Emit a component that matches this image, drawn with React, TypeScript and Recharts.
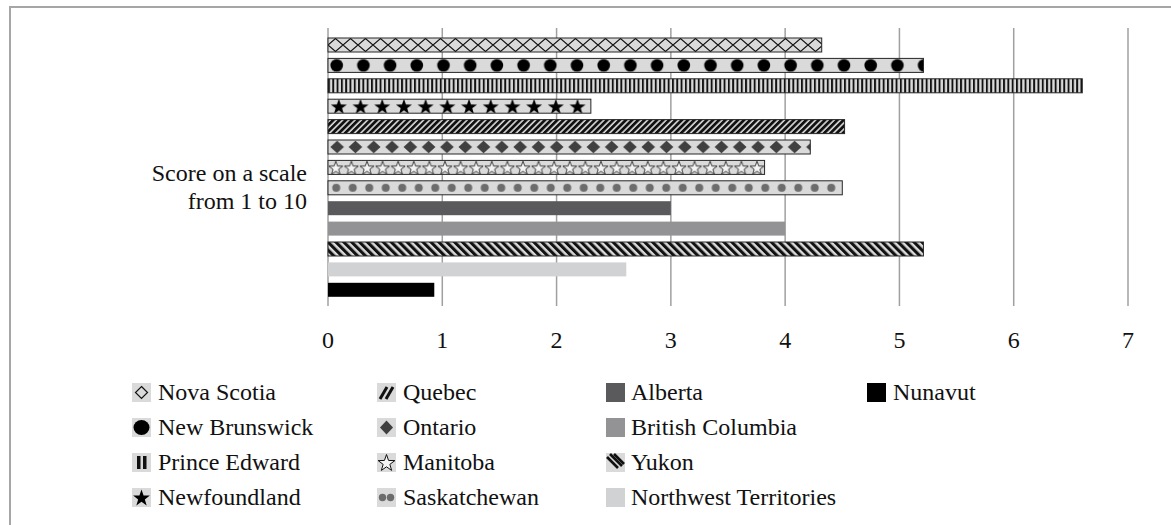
import React from 'react';
import { BarChart, Bar, XAxis, YAxis, CartesianGrid, Legend } from 'recharts';

const categories = ['Score on a scale from 1 to 10'];
const yLabelLines = ['Score on a scale', 'from 1 to 10'];
const seriesNames = [
  'Nova Scotia', 'New Brunswick', 'Prince Edward', 'Newfoundland',
  'Quebec', 'Ontario', 'Manitoba', 'Saskatchewan',
  'Alberta', 'British Columbia', 'Yukon', 'Northwest Territories', 'Nunavut',
];
const seriesValues = [4.32, 5.21, 6.6, 2.3, 4.52, 4.22, 3.82, 4.5, 3.0, 4.0, 5.21, 2.61, 0.93];
const seriesStyles = [
  'diamondOutline', 'dotsBlack', 'vStripes', 'starsBlack',
  'hatchSlash', 'diamondsFilled', 'starsOutline', 'dotsGray',
  'solid:#5a5a5c', 'solid:#939395', 'hatchBack', 'solid:#d1d2d4', 'solid:#000000',
];
const xTicks = [0, 1, 2, 3, 4, 5, 6, 7];

const FONT = 'Liberation Serif, DejaVu Serif, serif';
const BG = '#dadada';
const TEXT = '#111111';

const data = categories.map((c) => {
  const row: Record<string, any> = { category: c };
  seriesNames.forEach((n, i) => { row[n] = seriesValues[i]; });
  return row;
});

function starPath(cx: number, cy: number, R: number) {
  const r = R * 0.4;
  let d = '';
  for (let i = 0; i < 10; i++) {
    const ang = -Math.PI / 2 + (i * Math.PI) / 5;
    const rad = i % 2 === 0 ? R : r;
    d += (i === 0 ? 'M' : 'L') + (cx + rad * Math.cos(ang)).toFixed(2) + ',' + (cy + rad * Math.sin(ang)).toFixed(2);
  }
  return d + 'Z';
}

function patternSpec(kind: string, h: number) {
  switch (kind) {
    case 'diamondOutline': {
      const w = h + 1;
      return {
        w, h, tr: undefined,
        c: <path d={`M0,${h / 2} L${w / 2},0.5 L${w},${h / 2} L${w / 2},${h - 0.5} Z`} fill="none" stroke="#111" strokeWidth={1.1} />,
      };
    }
    case 'dotsBlack': {
      const w = 26.7;
      return { w, h, tr: undefined, c: <circle cx={8.7} cy={h / 2} r={h * 0.45} fill="#000" /> };
    }
    case 'vStripes': {
      const w = 4.3;
      return { w, h, tr: undefined, c: <rect x={0} y={0} width={1.9} height={h} fill="#111" /> };
    }
    case 'starsBlack': {
      const w = 21.7;
      return { w, h, tr: undefined, c: <path d={starPath(w / 2, h / 2 + 1, h * 0.6)} fill="#000" /> };
    }
    case 'hatchSlash': {
      const w = 4.4;
      return { w, h: w, tr: 'rotate(45)', c: <rect x={0} y={0} width={2.8} height={w} fill="#111" /> };
    }
    case 'hatchBack': {
      const w = 5.6;
      return { w, h: w, tr: 'rotate(-45)', c: <rect x={0} y={0} width={3.1} height={w} fill="#111" /> };
    }
    case 'diamondsFilled': {
      const w = 18.3;
      const dw = 6.8, dh = 6.2;
      const cx = w / 2, cy = h / 2;
      return {
        w, h, tr: undefined,
        c: <path d={`M${cx - dw},${cy} L${cx},${cy - dh} L${cx + dw},${cy} L${cx},${cy + dh} Z`} fill="#404040" />,
      };
    }
    case 'starsOutline': {
      const w = 15.6;
      return {
        w, h, tr: undefined,
        c: <path d={starPath(w / 2, h / 2 + 1, h * 0.52)} fill="#f4f4f4" stroke="#111" strokeWidth={0.8} />,
      };
    }
    case 'dotsGray': {
      const w = 16.5;
      return { w, h, tr: undefined, c: <circle cx={w / 2} cy={h / 2} r={4} fill="#6c6c6c" /> };
    }
    default:
      return { w: 10, h, tr: undefined, c: null };
  }
}

const PatternBar = (props: any) => {
  const { x, y, width, height, kind, sid } = props;
  if (!width || width <= 0) return null;
  if (kind.startsWith('solid:')) {
    return <rect x={x} y={y} width={width} height={height} fill={kind.slice(6)} />;
  }
  const spec = patternSpec(kind, height);
  const id = `pat-${sid}`;
  return (
    <g>
      <defs>
        <pattern id={id} patternUnits="userSpaceOnUse" x={x} y={y} width={spec.w} height={spec.h} patternTransform={spec.tr}>
          <rect x={0} y={0} width={spec.w} height={spec.h} fill={BG} />
          {spec.c}
        </pattern>
      </defs>
      <rect x={x} y={y} width={width} height={height} fill={`url(#${id})`} stroke="#262626" strokeWidth={1} />
    </g>
  );
};

function LegendIcon({ kind }: { kind: string }) {
  const s = 19;
  let content: any = null;
  let bg = BG;
  if (kind.startsWith('solid:')) {
    bg = kind.slice(6);
  } else {
    switch (kind) {
      case 'diamondOutline':
        content = <path d="M9.5,3.5 L15.5,9.5 L9.5,15.5 L3.5,9.5 Z" fill="none" stroke="#111" strokeWidth={1.2} />;
        break;
      case 'dotsBlack':
        content = <ellipse cx={9.5} cy={9.5} rx={8} ry={7.5} fill="#000" />;
        break;
      case 'vStripes':
        content = (<g><rect x={5} y={3} width={3.5} height={13} fill="#111" /><rect x={11} y={3} width={3.5} height={13} fill="#111" /></g>);
        break;
      case 'starsBlack':
        content = <path d={starPath(9.5, 10.3, 8.8)} fill="#000" />;
        break;
      case 'hatchSlash':
        content = (<g stroke="#111" strokeWidth={3}><line x1={3} y1={16} x2={10} y2={4} /><line x1={9} y1={16} x2={16} y2={4} /></g>);
        break;
      case 'hatchBack':
        content = (<g stroke="#111" strokeWidth={2.6}><line x1={1} y1={4} x2={12} y2={15} /><line x1={4} y1={1} x2={16} y2={13} /><line x1={8} y1={1} x2={18} y2={11} /></g>);
        break;
      case 'diamondsFilled':
        content = <path d="M9.5,2.5 L16,9.5 L9.5,16.5 L3,9.5 Z" fill="#404040" />;
        break;
      case 'starsOutline':
        content = <path d={starPath(9.5, 10.3, 8.8)} fill="#f4f4f4" stroke="#111" strokeWidth={1} />;
        break;
      case 'dotsGray':
        content = (<g fill="#6c6c6c"><circle cx={5.5} cy={9.5} r={3.7} /><circle cx={13.5} cy={9.5} r={3.7} /></g>);
        break;
    }
  }
  return (
    <svg width={s} height={s} style={{ display: 'block', flex: 'none' }}>
      <rect x={0} y={0} width={s} height={s} fill={bg} />
      {content}
    </svg>
  );
}

const colIcon = [132, 377, 606, 867];
const colText = [158, 403, 631, 893];
const LEGEND_TOP = 370;

const renderLegend = (props: any) => {
  const payload = [...(props.payload || [])].sort(
    (a: any, b: any) => seriesNames.indexOf(a.value) - seriesNames.indexOf(b.value)
  );
  return (
    <div style={{ position: 'relative', width: 1171, height: 150, fontFamily: FONT, fontSize: 24, color: TEXT }}>
      {payload.map((p: any) => {
        const i = seriesNames.indexOf(p.value);
        const col = Math.floor(i / 4);
        const row = i % 4;
        const cy = 22 + row * 35;
        return (
          <div key={p.value} style={{ position: 'absolute', left: colIcon[col], top: cy - 14, height: 28, display: 'flex', alignItems: 'center', whiteSpace: 'nowrap' }}>
            <LegendIcon kind={seriesStyles[i]} />
            <span style={{ marginLeft: colText[col] - colIcon[col] - 19, lineHeight: '28px' }}>{p.value}</span>
          </div>
        );
      })}
    </div>
  );
};

const YTick = (props: any) => {
  const { x, y } = props;
  return (
    <text x={x} y={y} textAnchor="end" fontFamily={FONT} fontSize={24} fill={TEXT}>
      {yLabelLines.map((l, i) => (
        <tspan key={i} x={x} dy={i === 0 ? 14 : 28}>{l}</tspan>
      ))}
    </text>
  );
};

export default function App() {
  return (
    <div style={{ position: 'absolute', left: 0, top: 0, width: 1171, height: 525, overflow: 'hidden', background: '#fff', fontFamily: FONT }}>
      <div style={{ position: 'absolute', left: 9, top: 6, width: 2000, height: 2000, borderTop: '2px solid #a6a6a6', borderLeft: '2px solid #a6a6a6' }} />
      <div style={{ position: 'absolute', left: 0, top: 0 }}>
        <BarChart
          width={1171}
          height={525}
          data={data}
          layout="vertical"
          margin={{ top: 28, right: 43, left: 0, bottom: 179 }}
          barSize={14}
          barGap={6.4}
          style={{ fontFamily: FONT }}
        >
          <CartesianGrid horizontal={false} stroke="#a0a0a0" strokeWidth={1.5} />
          <XAxis
            type="number"
            domain={[0, 7]}
            ticks={xTicks}
            axisLine={false}
            tickLine={false}
            tickSize={0}
            tickMargin={25}
            height={40}
            tick={{ fontFamily: FONT, fontSize: 24, fill: TEXT }}
          />
          <YAxis
            type="category"
            dataKey="category"
            width={328}
            axisLine={false}
            tickLine={false}
            tickSize={0}
            tickMargin={21}
            tick={<YTick />}
          />
          <Legend
            layout="horizontal"
            verticalAlign="middle"
            align="center"
            wrapperStyle={{ top: LEGEND_TOP, left: 0, width: 1171 }}
            content={renderLegend}
          />
          {seriesNames.map((n, i) => (
            <Bar
              key={n}
              dataKey={n}
              name={n}
              fill={seriesStyles[i].startsWith('solid:') ? seriesStyles[i].slice(6) : BG}
              isAnimationActive={false}
              shape={(p: any) => <PatternBar {...p} kind={seriesStyles[i]} sid={i} />}
            />
          ))}
        </BarChart>
      </div>
    </div>
  );
}
